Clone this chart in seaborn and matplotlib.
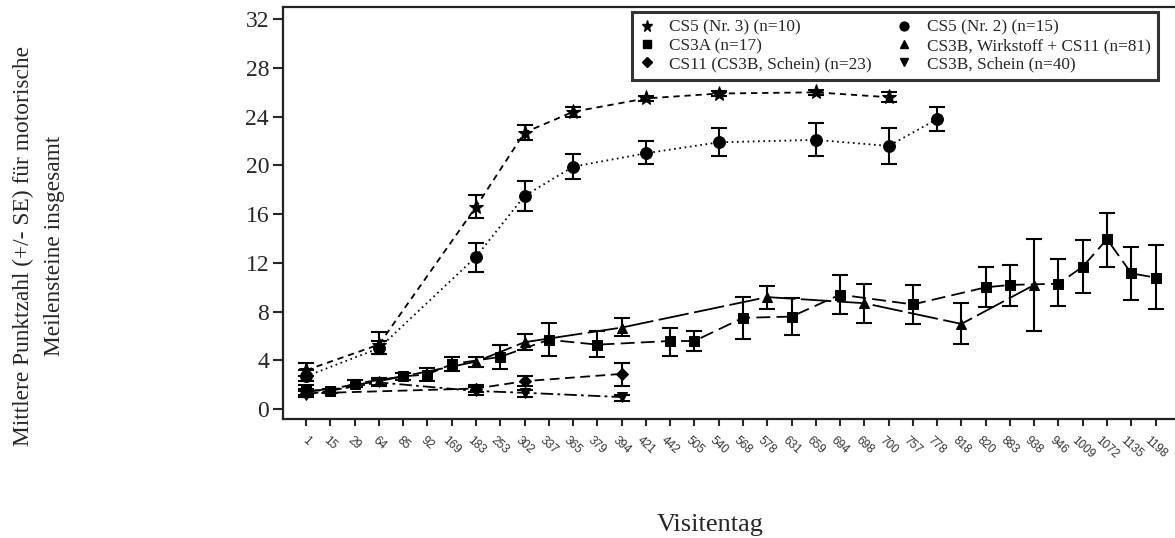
import matplotlib
matplotlib.use("Agg")
import matplotlib.pyplot as plt
from matplotlib.lines import Line2D
import seaborn as sns
import pandas as pd

# ---------------- data ----------------
visit_days = [1, 15, 29, 64, 85, 92, 169, 183, 253, 302, 337, 365, 379, 394,
              421, 442, 505, 540, 568, 578, 631, 659, 694, 698, 700, 757, 778,
              818, 820, 883, 938, 946, 1009, 1072, 1135, 1198]

cs5_nr3_days = [1, 64, 183, 302, 365, 421, 540, 659, 700]
cs5_nr3_mean = [3.2, 5.3, 16.6, 22.7, 24.4, 25.5, 25.9, 26.0, 25.6]
cs5_nr3_lo = [2.7, 4.5, 15.7, 22.1, 24.0, 25.3, 25.7, 25.8, 25.2]
cs5_nr3_hi = [3.8, 6.3, 17.6, 23.3, 24.8, 25.7, 26.1, 26.2, 26.0]

cs5_nr2_days = [1, 64, 183, 302, 365, 421, 540, 659, 700, 778]
cs5_nr2_mean = [2.7, 5.0, 12.5, 17.5, 19.9, 21.0, 21.9, 22.1, 21.6, 23.8]
cs5_nr2_lo = [2.3, 4.5, 11.3, 16.3, 18.9, 20.1, 20.8, 20.8, 20.1, 22.8]
cs5_nr2_hi = [3.2, 5.6, 13.6, 18.7, 20.9, 22.0, 23.1, 23.5, 23.1, 24.8]

cs3a_days = [1, 15, 29, 85, 92, 169, 253, 337, 379, 442, 505, 568, 631, 694,
             757, 820, 883, 946, 1009, 1072, 1135, 1198]
cs3a_mean = [1.6, 1.5, 2.1, 2.7, 2.85, 3.7, 4.3, 5.7, 5.3, 5.6, 5.6, 7.5, 7.6,
             9.4, 8.6, 10.0, 10.2, 10.3, 11.7, 13.95, 11.15, 10.8]
cs3a_lo = [1.2, 1.3, 1.8, 2.4, 2.3, 3.1, 3.3, 4.35, 4.3, 4.4, 4.8, 5.8, 6.1,
           7.8, 7.0, 8.4, 8.5, 8.45, 9.5, 11.7, 9.0, 8.2]
cs3a_hi = [2.0, 1.7, 2.4, 3.0, 3.4, 4.3, 5.3, 7.05, 6.4, 6.7, 6.4, 9.2, 9.1,
           11.0, 10.2, 11.65, 11.8, 12.3, 13.9, 16.1, 13.3, 13.5]

cs3b_act_days = [1, 64, 183, 302, 394, 578, 698, 818, 938]
cs3b_act_mean = [1.4, 2.3, 3.9, 5.5, 6.7, 9.2, 8.7, 7.0, 10.2]
cs3b_act_lo = [1.1, 2.0, 3.5, 4.9, 6.05, 8.2, 7.05, 5.35, 6.4]
cs3b_act_hi = [1.7, 2.6, 4.3, 6.15, 7.45, 10.1, 10.3, 8.7, 14.0]

cs11_days = [1, 183, 302, 394]
cs11_mean = [1.3, 1.7, 2.3, 2.9]
cs11_lo = [1.0, 1.4, 1.9, 1.9]
cs11_hi = [1.6, 2.0, 2.7, 3.8]

cs3b_sham_days = [1, 64, 183, 302, 394]
cs3b_sham_mean = [1.2, 2.2, 1.5, 1.35, 1.0]
cs3b_sham_lo = [1.0, 1.9, 1.2, 1.0, 0.7]
cs3b_sham_hi = [1.5, 2.5, 1.8, 1.6, 1.2]

series_labels = ["CS5 (Nr. 3) (n=10)", "CS3A (n=17)", "CS11 (CS3B, Schein) (n=23)",
                 "CS5 (Nr. 2) (n=15)", "CS3B, Wirkstoff + CS11 (n=81)",
                 "CS3B, Schein (n=40)"]

y_ticks = [0, 4, 8, 12, 16, 20, 24, 28, 32]

# ---------------- style ----------------
sns.set_theme(style="ticks")
plt.rcParams["font.family"] = ["Liberation Serif", "DejaVu Serif"]
plt.rcParams["lines.scale_dashes"] = False

fig = plt.figure(figsize=(11.75, 5.38), dpi=100)
ax = fig.add_axes([283 / 1175, 1 - 419 / 538, 1 - 283 / 1175, (419 - 7) / 538])

series = [
    (cs5_nr3_days, cs5_nr3_mean, cs5_nr3_lo, cs5_nr3_hi, "*", 11, (0, (4.5, 3.5)), series_labels[0]),
    (cs3a_days, cs3a_mean, cs3a_lo, cs3a_hi, "s", 7.5, (0, (10, 4.5)), series_labels[1]),
    (cs11_days, cs11_mean, cs11_lo, cs11_hi, "D", 6.5, (0, (7, 4)), series_labels[2]),
    (cs5_nr2_days, cs5_nr2_mean, cs5_nr2_lo, cs5_nr2_hi, "o", 8.5, (0, (1.2, 2.6)), series_labels[3]),
    (cs3b_act_days, cs3b_act_mean, cs3b_act_lo, cs3b_act_hi, "^", 7.5, (0, (22, 4)), series_labels[4]),
    (cs3b_sham_days, cs3b_sham_mean, cs3b_sham_lo, cs3b_sham_hi, "v", 7.5, (0, (9, 3, 2, 3)), series_labels[5]),
]

handles = []
for days, mean, lo, hi, mk, ms, ls, lab in series:
    xi = [visit_days.index(d) for d in days]
    df = pd.DataFrame({"x": xi, "y": mean})
    sns.lineplot(data=df, x="x", y="y", ax=ax, color="black", linewidth=1.3,
                 linestyle=ls, marker=mk, markersize=ms, markeredgecolor="black",
                 markerfacecolor="black", errorbar=None, legend=False)
    yerr = [[m - l for m, l in zip(mean, lo)], [h - m for m, h in zip(mean, hi)]]
    ax.errorbar(xi, mean, yerr=yerr, fmt="none", ecolor="black",
                elinewidth=1.5, capsize=5.5, capthick=1.5, zorder=3)
    handles.append(Line2D([], [], color="black", marker=mk, linestyle="None",
                          markersize=ms * 0.75, label=lab))

ax.set_xlim(-0.95, 35.8)
ax.set_ylim(-0.8, 33)
ax.set_xticks(range(len(visit_days)))
ax.set_xticklabels([str(d) for d in visit_days], rotation=-42, ha="center",
                   fontsize=8.5, family=["Liberation Sans", "DejaVu Sans"], color="#333333")
ax.set_yticks(y_ticks)
ax.set_yticklabels([str(t) for t in y_ticks], fontsize=17)
ax.set_xlabel("")
ax.set_ylabel("")
ax.tick_params(axis="y", length=7, width=1.5, pad=3)
ax.tick_params(axis="x", length=5, width=1.5, pad=6)

for side in ["left", "bottom", "top"]:
    ax.spines[side].set_linewidth(1.6)
    ax.spines[side].set_color("#222222")
ax.spines["right"].set_visible(False)

leg = ax.legend(handles=handles, ncol=2, loc="upper left",
                bbox_to_anchor=(632 / 1175, 1 - 12 / 538), bbox_transform=fig.transFigure,
                fontsize=12.4, frameon=True, fancybox=False, handlelength=0.8,
                handletextpad=0.9, columnspacing=1.5, labelspacing=0.12,
                borderpad=0.45, borderaxespad=0)
leg.get_frame().set_edgecolor("black")
leg.get_frame().set_linewidth(2.2)

fig.text(39 / 1175, 1 - 246 / 538,
         "Mittlere Punktzahl (+/- SE) für motorische\nMeilensteine insgesamt",
         rotation=90, ha="center", va="center", multialignment="center",
         fontsize=16.8, linespacing=1.65)
fig.text(710 / 1175, 1 - 525 / 538, "Visitentag", ha="center", va="center",
         fontsize=19)

fig.savefig("out.png", dpi=100)
